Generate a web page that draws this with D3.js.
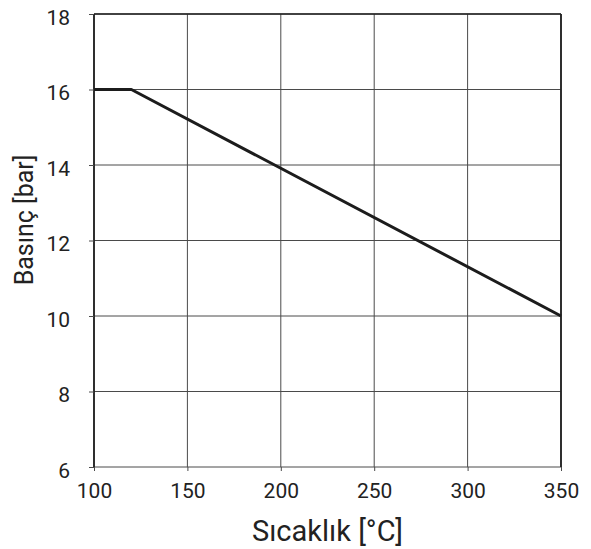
<!DOCTYPE html>
<html>
<head>
<meta charset="utf-8">
<script src="https://cdn.jsdelivr.net/npm/d3@7"></script>
<style>
  body { margin: 0; background: #fff; }
  text { font-family: Roboto, sans-serif; fill: #222; }
</style>
</head>
<body>
<div id="vis"></div>
<script>
const FRAME_WIDTH = 591;
const FRAME_HEIGHT = 549;
const MARGINS = {left: 94, right: 30, top: 14, bottom: 82};

// data
const temps = [100, 120, 350];
const pressures = [16, 16, 10];
const xTicks = [100, 150, 200, 250, 300, 350];
const yTicks = [6, 8, 10, 12, 14, 16, 18];

const VIS_WIDTH = 561 - MARGINS.left;
const VIS_HEIGHT = 467 - MARGINS.top;

const FRAME = d3.select("#vis")
  .append("svg")
    .attr("width", FRAME_WIDTH)
    .attr("height", FRAME_HEIGHT);

const X_SCALE = d3.scaleLinear().domain([100, 350]).range([0, VIS_WIDTH]);
const Y_SCALE = d3.scaleLinear().domain([6, 18]).range([VIS_HEIGHT, 0]);

const plot = FRAME.append("g")
  .attr("transform", "translate(" + MARGINS.left + "," + MARGINS.top + ")");

// grid
plot.selectAll(".vgrid")
  .data(xTicks)
  .enter()
  .append("line")
    .attr("x1", d => X_SCALE(d)).attr("x2", d => X_SCALE(d))
    .attr("y1", 0).attr("y2", VIS_HEIGHT)
    .attr("stroke", "#4a4a4a").attr("stroke-width", 1);

plot.selectAll(".hgrid")
  .data(yTicks)
  .enter()
  .append("line")
    .attr("x1", 0).attr("x2", VIS_WIDTH)
    .attr("y1", d => Y_SCALE(d)).attr("y2", d => Y_SCALE(d))
    .attr("stroke", "#4a4a4a").attr("stroke-width", 1);

// frame edges
plot.append("line")
  .attr("x1", 0).attr("x2", 0).attr("y1", 0).attr("y2", VIS_HEIGHT)
  .attr("stroke", "#222").attr("stroke-width", 1.8);
plot.append("line")
  .attr("x1", VIS_WIDTH).attr("x2", VIS_WIDTH).attr("y1", 0).attr("y2", VIS_HEIGHT)
  .attr("stroke", "#222").attr("stroke-width", 1.8);
plot.append("line")
  .attr("x1", 0).attr("x2", VIS_WIDTH).attr("y1", 0).attr("y2", 0)
  .attr("stroke", "#222").attr("stroke-width", 1.5);

// axes
const xAxis = plot.append("g")
  .attr("transform", "translate(0," + VIS_HEIGHT + ")")
  .call(d3.axisBottom(X_SCALE).tickValues(xTicks).tickSizeInner(4).tickSizeOuter(0).tickPadding(12));
const yAxis = plot.append("g")
  .call(d3.axisLeft(Y_SCALE).tickValues(yTicks).tickSizeInner(5).tickSizeOuter(0).tickPadding(19));

[xAxis, yAxis].forEach(a => {
  a.select(".domain").remove();
  a.selectAll(".tick line").attr("stroke", "#4a4a4a");
  a.selectAll(".tick text")
    .attr("font-family", "Roboto")
    .attr("font-size", 21)
    .attr("fill", "#222");
});
yAxis.selectAll(".tick text").attr("dy", "0.48em");

// data line
plot.append("path")
  .datum(temps.map((t, i) => [t, pressures[i]]))
  .attr("fill", "none")
  .attr("stroke", "#1c1c1c")
  .attr("stroke-width", 3)
  .attr("stroke-linejoin", "round")
  .attr("d", d3.line().x(d => X_SCALE(d[0])).y(d => Y_SCALE(d[1])));

// axis titles
FRAME.append("text")
  .attr("x", MARGINS.left + VIS_WIDTH / 2)
  .attr("y", 541)
  .attr("text-anchor", "middle")
  .attr("font-size", 29)
  .text("Sıcaklık [°C]");

FRAME.append("text")
  .attr("transform", "translate(33,220) rotate(-90)")
  .attr("text-anchor", "middle")
  .attr("font-size", 25)
  .text("Basınç [bar]");
</script>
</body>
</html>
